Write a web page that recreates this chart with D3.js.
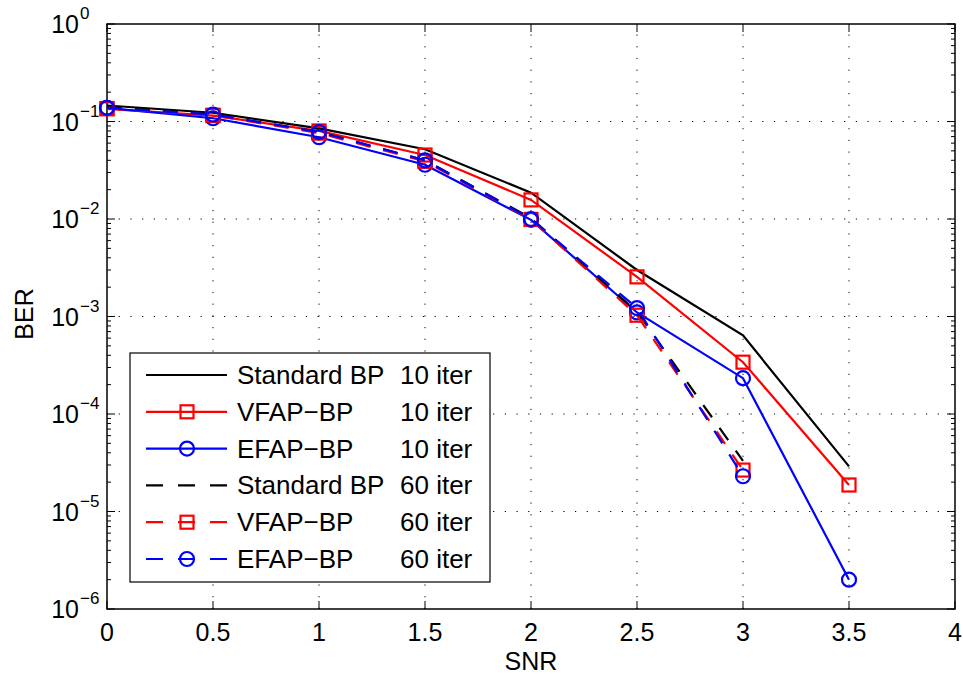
<!DOCTYPE html>
<head>
  <meta charset="utf-8">
  <script src="https://d3js.org/d3.v7.min.js"></script>
  <style>
    body { margin: 0; background: white; }
    text { font-family: "Liberation Sans", Arial, Helvetica, sans-serif; fill: black; }
  </style>
</head>
<body>
  <script>
    // data
    const snr10 = [0, 0.5, 1, 1.5, 2, 2.5, 3, 3.5];
    const snr60 = [0, 0.5, 1, 1.5, 2, 2.5, 3];

    const stdBP10 = [0.146, 0.123, 0.085, 0.052, 0.0186, 3.0e-3, 6.4e-4, 2.9e-5];
    const vfap10  = [0.135, 0.115, 0.080, 0.0453, 0.0157, 2.55e-3, 3.4e-4, 1.87e-5];
    const efap10  = [0.138, 0.108, 0.069, 0.036, 0.0098, 1.1e-3, 2.33e-4, 2.0e-6];
    const stdBP60 = [0.140, 0.118, 0.078, 0.040, 0.0102, 1.12e-3, 3.3e-5];
    const vfap60  = [0.136, 0.116, 0.076, 0.039, 0.0099, 1.03e-3, 2.66e-5];
    const efap60  = [0.138, 0.118, 0.078, 0.040, 0.0100, 1.22e-3, 2.3e-5];

    const xTicks = [0, 0.5, 1, 1.5, 2, 2.5, 3, 3.5, 4];
    const yExponents = [0, -1, -2, -3, -4, -5, -6];

    const legendNames = ["Standard BP", "VFAP\u2212BP", "EFAP\u2212BP", "Standard BP", "VFAP\u2212BP", "EFAP\u2212BP"];
    const legendIters = ["10 iter", "10 iter", "10 iter", "60 iter", "60 iter", "60 iter"];

    const W = 963, H = 679;
    const plot = {left: 107, right: 955, top: 24, bottom: 609};

    const x = d3.scaleLinear().domain([0, 4]).range([plot.left, plot.right]);
    const y = d3.scaleLog().domain([1e-6, 1]).range([plot.bottom, plot.top]);

    const svg = d3.select("body").append("svg")
        .attr("width", W)
        .attr("height", H)
        .style("background", "white");

    // grid
    const grid = svg.append("g")
        .attr("stroke", "#000")
        .attr("stroke-width", 1)
        .attr("stroke-dasharray", "1.2,10.5");
    xTicks.slice(1, -1).forEach(t => {
        grid.append("line")
            .attr("x1", x(t)).attr("x2", x(t))
            .attr("y1", plot.bottom).attr("y2", plot.top);
    });
    yExponents.slice(1, -1).forEach(e => {
        grid.append("line")
            .attr("x1", plot.left).attr("x2", plot.right)
            .attr("y1", y(Math.pow(10, e))).attr("y2", y(Math.pow(10, e)));
    });

    // ticks (inward, on all four sides)
    const ticks = svg.append("g").attr("stroke", "#000").attr("stroke-width", 1);
    const majorLen = 8, minorLen = 4;
    xTicks.forEach(t => {
        ticks.append("line").attr("x1", x(t)).attr("x2", x(t))
            .attr("y1", plot.bottom).attr("y2", plot.bottom - majorLen);
        ticks.append("line").attr("x1", x(t)).attr("x2", x(t))
            .attr("y1", plot.top).attr("y2", plot.top + majorLen);
    });
    yExponents.forEach(e => {
        const v = Math.pow(10, e);
        ticks.append("line").attr("x1", plot.left).attr("x2", plot.left + majorLen)
            .attr("y1", y(v)).attr("y2", y(v));
        ticks.append("line").attr("x1", plot.right).attr("x2", plot.right - majorLen)
            .attr("y1", y(v)).attr("y2", y(v));
        if (e < 0) {
            for (let m = 2; m <= 9; m++) {
                const mv = m * v;
                ticks.append("line").attr("x1", plot.left).attr("x2", plot.left + minorLen)
                    .attr("y1", y(mv)).attr("y2", y(mv));
                ticks.append("line").attr("x1", plot.right).attr("x2", plot.right - minorLen)
                    .attr("y1", y(mv)).attr("y2", y(mv));
            }
        }
    });

    // frame
    svg.append("rect")
        .attr("x", plot.left).attr("y", plot.top)
        .attr("width", plot.right - plot.left)
        .attr("height", plot.bottom - plot.top)
        .attr("fill", "none")
        .attr("stroke", "#000")
        .attr("stroke-width", 1.5);

    // tick labels
    svg.append("g").selectAll("text")
        .data(xTicks)
        .enter().append("text")
        .attr("x", d => x(d))
        .attr("y", plot.bottom + 32)
        .attr("text-anchor", "middle")
        .style("font-size", "25px")
        .text(d => d3.format("")(d));

    const yLab = svg.append("g");
    yExponents.forEach(e => {
        const py = y(Math.pow(10, e));
        yLab.append("text")
            .attr("x", 79).attr("y", py + 9)
            .attr("text-anchor", "end")
            .style("font-size", "25px")
            .text("10");
        yLab.append("text")
            .attr("x", 80).attr("y", py - 5)
            .style("font-size", "17px")
            .text(e === 0 ? "0" : "\u2212" + Math.abs(e));
    });

    // axis titles
    svg.append("text")
        .attr("x", (plot.left + plot.right) / 2)
        .attr("y", 670)
        .attr("text-anchor", "middle")
        .style("font-size", "25px")
        .text("SNR");
    svg.append("text")
        .attr("transform", "translate(33," + 314 + ") rotate(-90)")
        .attr("text-anchor", "middle")
        .style("font-size", "25px")
        .text("BER");

    // series
    const series = [
        {xs: snr10, ys: stdBP10, color: "#000", dash: null, marker: null},
        {xs: snr10, ys: vfap10, color: "#ff0000", dash: null, marker: "square"},
        {xs: snr10, ys: efap10, color: "#0000ff", dash: null, marker: "circle"},
        {xs: snr60, ys: stdBP60, color: "#000", dash: "15,13", marker: null},
        {xs: snr60, ys: vfap60, color: "#ff0000", dash: "15,13", marker: "square"},
        {xs: snr60, ys: efap60, color: "#0000ff", dash: "15,13", marker: "circle"}
    ];

    const line = d3.line().x(d => x(d[0])).y(d => y(d[1]));

    function drawMarker(g, kind, cx, cy, color) {
        if (kind === "square") {
            g.append("rect")
                .attr("x", cx - 6.5).attr("y", cy - 6.5)
                .attr("width", 13).attr("height", 13)
                .attr("fill", "none").attr("stroke", color).attr("stroke-width", 2.2);
        } else if (kind === "circle") {
            g.append("circle")
                .attr("cx", cx).attr("cy", cy).attr("r", 7)
                .attr("fill", "none").attr("stroke", color).attr("stroke-width", 2.2);
        }
    }

    series.forEach(s => {
        const pts = s.xs.map((v, i) => [v, s.ys[i]]);
        const g = svg.append("g");
        g.append("path")
            .datum(pts)
            .attr("d", line)
            .attr("fill", "none")
            .attr("stroke", s.color)
            .attr("stroke-width", 2.2)
            .attr("stroke-dasharray", s.dash);
        if (s.marker) {
            pts.forEach(p => drawMarker(g, s.marker, x(p[0]), y(p[1]), s.color));
        }
    });

    // legend
    const lg = svg.append("g");
    lg.append("rect")
        .attr("x", 130).attr("y", 353)
        .attr("width", 360).attr("height", 229)
        .attr("fill", "white")
        .attr("stroke", "#000")
        .attr("stroke-width", 1.2);
    series.forEach((s, i) => {
        const ry = 375 + i * 36.8;
        lg.append("line")
            .attr("x1", 146).attr("x2", 227)
            .attr("y1", ry).attr("y2", ry)
            .attr("stroke", s.color)
            .attr("stroke-width", 2.2)
            .attr("stroke-dasharray", s.dash ? "17,15" : null);
        if (s.marker) drawMarker(lg, s.marker, 187, ry, s.color);
        lg.append("text")
            .attr("x", 237).attr("y", ry + 9)
            .style("font-size", "26px")
            .text(legendNames[i]);
        lg.append("text")
            .attr("x", 400).attr("y", ry + 9)
            .style("font-size", "26px")
            .text(legendIters[i]);
    });
  </script>
</body>
